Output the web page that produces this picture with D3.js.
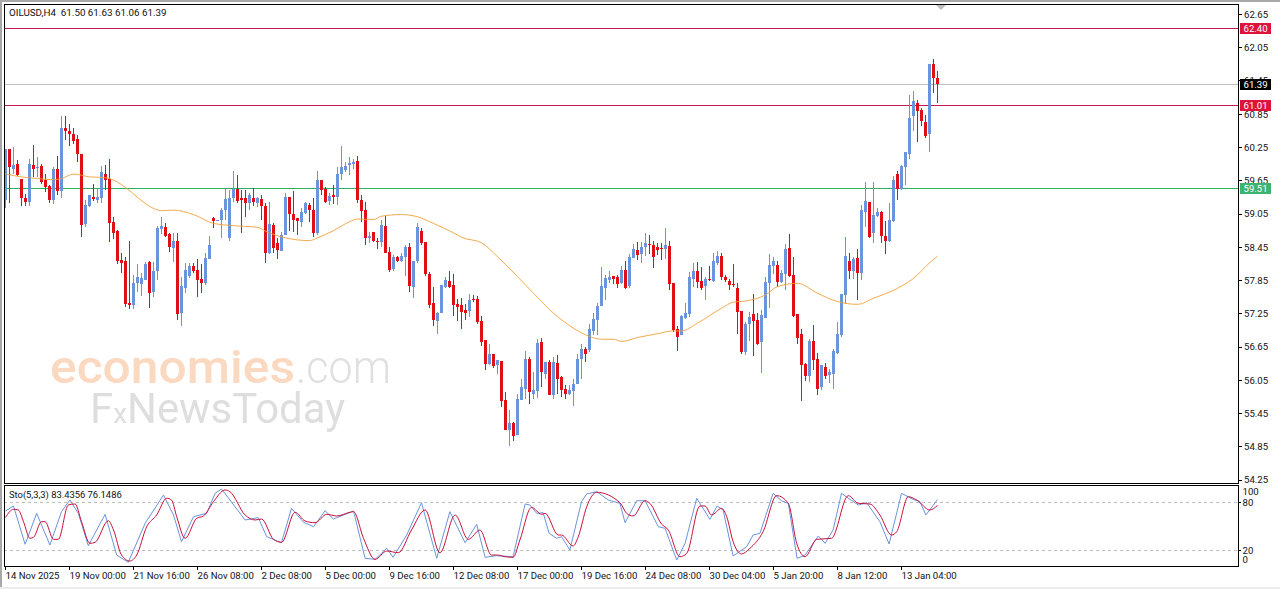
<!DOCTYPE html>
<html><head><meta charset="utf-8">
<script src="https://cdnjs.cloudflare.com/ajax/libs/d3/7.9.0/d3.min.js"></script>
<style>html,body{margin:0;padding:0;background:#fff}svg{display:block}text{font-family:"Roboto","Liberation Sans",sans-serif}</style>
</head><body><svg id="c" width="1280" height="589"></svg>
<script>
const opens=[59.30,60.22,59.87,59.95,59.68,59.34,59.27,59.93,59.89,59.92,59.66,59.56,59.31,59.86,59.47,60.60,60.55,60.49,60.40,60.13,
58.87,59.19,59.35,59.30,59.34,59.78,59.69,58.91,58.75,58.22,58.20,57.44,57.41,57.80,57.79,57.86,58.18,57.64,58.03,58.78,
58.81,58.69,58.44,58.56,57.26,57.72,57.93,58.12,58.04,57.88,57.80,58.24,58.98,58.93,58.94,59.12,58.61,59.33,59.51,59.33,
59.33,59.25,59.33,59.24,59.32,59.19,58.34,58.85,58.52,58.39,58.67,59.35,59.05,58.97,58.91,59.07,59.21,59.13,58.70,59.66,
59.51,59.28,59.39,59.36,59.77,59.84,59.94,59.96,60.01,59.30,59.13,58.61,58.72,58.57,58.55,58.83,58.36,58.06,58.28,58.21,
58.27,58.45,57.74,58.20,58.74,58.55,57.97,57.44,57.12,57.26,57.73,57.84,57.76,57.43,57.41,57.32,57.30,57.51,57.51,57.12,
56.77,56.34,56.52,56.32,56.39,55.69,55.15,55.28,55.06,55.70,55.90,56.44,55.81,55.85,56.74,56.17,56.38,55.79,56.36,56.10,
55.89,55.81,55.86,55.98,56.43,56.62,56.60,56.94,57.14,57.39,57.72,57.86,57.93,57.92,57.80,58.04,57.75,58.25,58.40,58.33,
58.46,58.51,58.49,58.45,58.44,58.42,58.47,57.80,56.97,56.86,57.17,57.24,57.87,58.02,57.84,57.75,57.88,57.84,58.16,58.29,
57.92,57.85,57.79,57.71,57.30,56.56,57.06,57.24,57.14,56.74,57.18,57.81,58.11,58.13,57.83,57.97,58.44,57.95,57.24,56.88,
56.35,56.12,56.76,56.43,55.92,56.29,56.15,56.17,56.55,56.87,57.59,58.21,58.03,58.25,57.99,59.09,59.27,58.70,59.01,59.09,
58.66,58.57,58.92,59.77,59.51,59.90,60.14,60.81,61.06,60.92,60.71,60.49,61.76,61.50];
const highs=[60.23,60.22,60.26,60.02,59.68,59.41,60.04,60.30,60.07,59.95,59.77,59.57,59.90,60.10,60.82,60.82,60.67,60.60,60.47,60.14,
59.30,59.40,59.60,59.51,59.92,59.93,60.05,59.00,58.76,58.35,58.28,58.56,57.95,58.15,57.99,58.19,58.20,58.19,58.83,59.00,
58.88,58.71,58.71,58.70,57.91,58.16,58.17,58.16,58.23,58.15,58.34,58.65,58.99,58.95,59.15,59.51,59.49,59.83,59.75,59.49,
59.48,59.43,59.52,59.36,59.39,59.24,59.26,58.88,58.61,58.73,59.43,59.36,59.47,58.97,59.15,59.27,59.24,59.33,59.82,59.67,
59.53,59.42,59.58,59.89,60.28,59.99,60.08,60.05,60.10,59.39,59.27,58.73,58.73,58.61,58.94,59.01,58.46,58.31,58.30,58.34,
58.49,58.52,58.20,58.88,58.79,58.55,58.01,57.73,57.29,57.77,57.92,58.02,57.97,57.51,57.53,57.42,57.60,57.59,57.57,57.21,
56.77,56.71,56.53,56.41,56.40,55.84,55.51,55.30,55.81,56.08,56.58,56.47,56.20,56.80,56.82,56.38,56.42,56.47,56.50,56.12,
55.96,55.96,56.08,56.53,56.70,56.65,57.06,57.26,57.45,58.10,57.95,58.03,57.93,57.95,58.11,58.20,58.33,58.51,58.55,58.55,
58.71,58.67,58.57,58.53,58.53,58.79,58.57,57.81,57.03,57.23,57.44,58.01,58.17,58.18,58.09,57.92,58.11,58.35,58.38,58.34,
57.95,57.87,58.15,57.80,57.30,57.11,57.29,57.60,57.26,57.32,57.92,58.33,58.28,58.21,58.04,58.51,58.69,58.27,57.24,56.97,
56.37,56.79,57.04,56.55,56.32,56.37,56.26,56.62,57.11,57.60,58.63,58.34,58.28,58.41,59.21,59.63,59.27,59.63,59.15,59.10,
58.92,59.25,59.73,59.83,59.93,60.17,61.20,61.27,61.11,60.97,60.84,61.76,61.85,61.63];
const lows=[59.15,59.25,59.78,59.74,59.19,59.19,59.19,59.71,59.72,59.60,59.45,59.24,59.23,59.39,59.33,60.38,60.28,60.32,59.98,58.64,
58.82,59.18,59.29,59.24,59.24,59.48,58.55,58.59,58.15,57.98,57.38,57.33,57.34,57.65,57.57,57.86,57.36,57.55,57.86,58.69,
58.63,58.37,58.19,57.14,57.03,57.62,57.89,57.99,57.56,57.62,57.77,58.24,58.79,58.93,58.61,58.95,58.57,59.27,59.25,58.71,
58.99,59.12,59.19,59.18,58.94,58.17,58.33,58.35,58.24,58.38,58.67,58.75,58.73,58.67,58.81,59.05,58.91,58.64,58.67,59.39,
59.25,59.22,59.23,59.21,59.66,59.81,59.76,59.87,59.25,58.91,58.49,58.53,58.54,58.42,58.46,58.34,58.01,58.03,58.18,58.19,
57.94,57.65,57.54,58.17,58.49,57.93,57.36,57.03,56.88,57.26,57.71,57.71,57.21,57.12,56.97,57.14,57.20,57.47,57.06,56.67,
56.24,56.32,56.28,56.16,55.56,55.15,54.86,54.96,55.06,55.69,55.72,55.62,55.72,55.73,55.93,56.08,55.78,55.72,55.81,55.75,
55.72,55.78,55.58,55.98,56.07,56.38,56.56,56.87,56.87,57.39,57.50,57.81,57.79,57.71,57.79,57.69,57.71,58.25,58.22,58.17,
58.29,58.33,58.07,58.31,58.22,58.23,57.67,56.92,56.58,56.86,57.15,57.20,57.74,57.72,57.68,57.50,57.85,57.83,58.13,57.86,
57.83,57.68,57.73,56.89,56.52,56.50,56.76,56.49,56.68,56.18,57.18,57.35,57.97,57.74,57.80,57.68,57.92,57.20,56.71,55.67,
56.04,56.02,56.23,55.78,55.88,56.08,56.00,55.90,56.52,56.83,57.43,57.87,57.87,57.50,57.86,58.82,58.61,58.53,59.00,58.52,
58.33,58.55,58.91,59.30,59.49,59.57,60.04,60.54,60.35,60.64,60.43,60.17,61.24,61.06];
const closes=[60.23,59.90,59.93,59.75,59.34,59.27,59.95,59.87,59.90,59.63,59.53,59.30,59.86,59.47,60.61,60.55,60.49,60.37,60.13,58.85,
59.21,59.39,59.32,59.35,59.81,59.66,58.89,58.71,58.20,58.17,57.42,57.41,57.80,57.91,57.89,58.15,57.63,58.02,58.80,58.83,
58.65,58.46,58.56,57.24,57.75,58.04,58.11,58.02,57.86,57.81,58.26,58.49,58.92,58.94,59.12,59.32,59.33,59.51,59.29,59.31,
59.25,59.39,59.27,59.33,59.19,58.34,58.87,58.44,58.40,58.67,59.36,59.05,58.94,58.92,59.09,59.24,59.12,58.70,59.66,59.49,
59.27,59.37,59.36,59.77,59.89,59.92,59.97,59.99,59.30,59.11,58.61,58.66,58.56,58.56,58.85,58.35,58.04,58.28,58.20,58.29,
58.45,57.75,58.20,58.81,58.53,57.97,57.41,57.14,57.26,57.76,57.86,57.73,57.40,57.38,57.29,57.26,57.50,57.50,57.10,56.74,
56.34,56.52,56.30,56.41,55.68,55.15,55.27,55.04,55.72,55.93,56.43,55.84,55.87,56.73,56.20,56.38,55.78,56.38,56.08,55.87,
55.81,55.88,55.99,56.44,56.62,56.52,56.97,57.15,57.39,57.75,57.89,57.91,57.88,57.79,58.04,57.72,58.27,58.42,58.31,58.46,
58.52,58.50,58.28,58.40,58.41,58.49,57.79,56.95,56.83,57.21,57.26,57.91,58.02,57.82,57.71,57.88,57.86,58.20,58.29,57.91,
57.86,57.77,57.76,57.29,56.56,57.06,57.20,57.12,56.71,57.23,57.82,58.13,58.21,57.82,57.98,58.41,57.93,57.21,56.82,56.32,
56.12,56.76,56.41,55.90,56.32,56.12,56.20,56.58,56.88,57.60,58.29,58.03,58.23,57.98,59.12,59.28,58.64,59.03,59.08,58.65,
58.57,58.94,59.67,59.51,59.92,60.17,60.79,61.09,60.90,60.72,60.46,61.76,61.50,61.39];

const maIndex=[0,4,8,12,14,17,19,21,24,26,30,33,36,39,42,47,52,57,63,65,70,76,78,82,86,88,92,94,99,103,107,112,114,119,123,128,132,137,142,146,149,152,154,158,163,167,169,173,179,182,185,190,193,198,203,208,213,217,223,228,230,233];
const maValues=[59.77,59.72,59.69,59.67,59.69,59.77,59.75,59.72,59.71,59.69,59.53,59.35,59.19,59.11,59.12,59.04,58.88,58.84,58.81,58.74,58.62,58.57,58.62,58.75,58.91,58.96,58.95,59.01,59.04,59.00,58.88,58.71,58.63,58.53,58.28,57.92,57.62,57.26,56.99,56.84,56.79,56.79,56.75,56.82,56.89,56.94,56.94,57.08,57.35,57.46,57.48,57.59,57.74,57.80,57.62,57.47,57.42,57.53,57.71,57.95,58.10,58.29];

const stoMainIndex=[0,2,4.9,7.8,11.1,14,16.1,18.2,20.7,24.9,27.8,30.7,34.9,39.5,42,44,47,50.3,52.4,54,59.9,63.2,65.3,69,71.5,74.5,77,79.9,82,87,89.9,92.4,95.3,96.9,100.3,104,107.8,111.1,114.9,117.8,119.9,122.8,126.9,129.9,131.1,132.8,134.4,135.9,137.8,139,141.1,144,145.3,147.8,150.7,153.6,154.9,157.8,159.9,163.2,164.9,167.8,169.9,172.8,176.1,177.9,179.4,181.9,185.3,186.9,188.6,191.9,194,195.7,197.9,199.9,203.2,204.9,206.9,209,213.2,215.3,218.6,220.9,224,226.9,228.6,230.1,233];
const stoMainValues=[69.1,75.4,27.5,66.2,26.6,68.3,82.9,66.2,25.8,65,14.1,5,53.7,89.1,64.1,30.8,62,66.2,91.2,96.6,57.9,60.8,37,29.5,72.5,55,49.5,69.5,59.1,69.1,10,8.7,22.5,11.2,39.1,79.5,10,68.3,29.5,52.5,11.2,13.3,12,77.9,76.6,66.2,67,41.2,35,37,20.4,80.8,90.4,93.3,82.9,78.7,54.5,82,82,49.5,47.4,7.9,28.7,85,58.7,75.4,70.4,12.9,24.5,39.1,41.2,91.2,82,78.7,10,14.1,37.9,28.7,45.4,91.2,76.6,79.5,55.8,27.9,91.2,83.7,80.8,64.1,83.4];
const stoSignalIndex=[0,2,3.2,4.5,6.1,7,9,9.9,12,13.2,15.7,17.4,19,21.1,22.4,25.7,27,29,31.1,32.8,35.3,37.8,40.3,41.5,42.8,44.9,47.8,49.5,52,54.9,56.1,59.9,62.4,64,67,69,72.4,74.9,77.4,80.3,82.8,86.1,87,89.5,92.4,95.3,98.2,101.5,104.9,108.6,112.4,115.7,118.6,121.5,122.8,124.9,126.9,128.6,131.5,134,134.9,138.2,139,141.9,143.2,145.3,147.8,153.6,155.3,156.9,159.9,161.1,164,165.7,168.6,170.3,173.6,174.9,176.5,179,180.3,181.9,184,186.1,189.4,192.8,195.7,197.8,199.9,202.8,206.5,210.7,213.2,216.1,218.6,221.5,222.8,225.7,227.8,231.1,233];
const stoSignalValues=[61.2,71.2,70.4,55.8,35,36.2,55.8,55.8,33.7,33.7,76.6,77.9,55.8,28.7,30,57,45.4,14.1,6.6,14.1,49.5,64.1,85,82.9,62,35,60,62.9,80.8,95.4,93.3,64.1,57.9,59.1,33.7,30,67.5,56.6,54.5,65,62.9,67.5,68.3,35,8.7,19.1,17,45.4,70.4,17,64.1,33.7,45.4,14.1,14.1,12,11.2,32.9,73.7,65,66.2,39.1,39.1,25.4,37,74.5,92.5,79.5,66.2,62.9,82,78.7,52.9,45.4,12,16.2,75.4,75.4,64.1,72.5,62,30.8,15.4,22.5,43.3,88.3,78.7,28.7,12,33.7,35,88.3,78.7,77.9,64.1,39.1,43.3,87,82.9,70.4,76.15];

const priceTicks=[62.65,62.05,61.45,60.85,60.25,59.65,59.05,58.45,57.85,57.25,56.65,56.05,55.45,54.85,54.25];
const timeLabels=["14 Nov 2025","19 Nov 00:00","21 Nov 16:00","26 Nov 08:00","2 Dec 08:00","5 Dec 00:00","9 Dec 16:00","12 Dec 08:00","17 Dec 00:00","19 Dec 16:00","24 Dec 08:00","30 Dec 04:00","5 Jan 20:00","8 Jan 12:00","13 Jan 04:00"];
const stoTicks=[100,80,20,0];
const levelPrices=[62.40,61.01,59.51];
const levelKinds=["res","res","sup"];
const lastPrice=61.39;

const FS=9.6;
const svg=d3.select("#c");
const x=d3.scaleLinear().domain([0,233]).range([5.5,937.5]);
const y=d3.scaleLinear().domain([62.65,54.25]).range([14.5,480]);
const ys=d3.scaleLinear().domain([100,0]).range([486.3,566.3]);
const L=4,R=1238;

svg.append("rect").attr("x",0).attr("y",0).attr("width",2).attr("height",589).attr("fill","#a8a8a8");
svg.append("rect").attr("x",0).attr("y",0).attr("width",1280).attr("height",2).attr("fill","#a8a8a8");
svg.append("rect").attr("x",0).attr("y",587).attr("width",1280).attr("height",2).attr("fill","#ececec");

// watermark
svg.append("defs").append("filter").attr("id","soft").append("feGaussianBlur").attr("stdDeviation",.6);
const wm=svg.append("g").attr("filter","url(#soft)");
wm.append("text").attr("x",50).attr("y",383).attr("font-size",46).attr("font-weight",500).attr("textLength",245).attr("lengthAdjust","spacingAndGlyphs").attr("font-family","Lato").attr("fill","#fbd8c0").text("economies");
wm.append("text").attr("x",296).attr("y",383).attr("font-size",46).attr("font-weight",300).attr("textLength",95).attr("lengthAdjust","spacingAndGlyphs").attr("font-family","Lato").attr("fill","#e0e0e0").text(".com");
const t2=wm.append("text").attr("x",90).attr("y",423).attr("font-size",42).attr("textLength",255).attr("lengthAdjust","spacingAndGlyphs").attr("font-family","Lato").attr("fill","#dedede");
t2.append("tspan").text("F");t2.append("tspan").attr("font-size",28).text("x");t2.append("tspan").text("NewsToday");

// level lines
const lvlColor={res:"#c2184f",sup:"#2fae66"},boxColor={res:"#dc143c",sup:"#3cb371"};
const crispY=v=>Math.floor(v)+.5;
svg.append("line").attr("x1",L).attr("x2",R).attr("y1",crispY(y(lastPrice))).attr("y2",crispY(y(lastPrice))).attr("stroke","#c0c0c0").attr("shape-rendering","crispEdges");
levelPrices.forEach((p,k)=>svg.append("line").attr("x1",L).attr("x2",R).attr("y1",crispY(y(p))).attr("y2",crispY(y(p))).attr("stroke",lvlColor[levelKinds[k]]).attr("shape-rendering","crispEdges"));

// candles
const idx=d3.range(opens.length);
const UP="#6a94dc",DN="#e00f16";
const col=i=>closes[i]>=opens[i]?UP:DN;
const g=svg.append("g").attr("shape-rendering","crispEdges");
g.selectAll("line").data(idx).join("line").attr("x1",i=>x(i)).attr("x2",i=>x(i)).attr("y1",i=>y(highs[i])).attr("y2",i=>y(lows[i])).attr("stroke",col);
g.selectAll("rect").data(idx).join("rect").attr("x",i=>Math.floor(x(i))-1).attr("width",3)
 .attr("y",i=>y(Math.max(opens[i],closes[i]))).attr("height",i=>Math.max(1,Math.abs(y(opens[i])-y(closes[i])))).attr("fill",col);

// MA
svg.append("path").attr("d",d3.line().x(d=>x(d[0])).y(d=>y(d[1])).curve(d3.curveMonotoneX)(d3.zip(maIndex,maValues))).attr("fill","none").attr("stroke","#ef9f38").attr("stroke-width",.9);

// stochastic
stoTicks.filter(v=>v==80||v==20).forEach(v=>svg.append("line").attr("x1",L).attr("x2",R).attr("y1",crispY(ys(v))).attr("y2",crispY(ys(v))).attr("stroke","#bdbdbd").attr("stroke-dasharray","3,3").attr("shape-rendering","crispEdges"));
svg.append("path").attr("d",d3.line().x(d=>x(d[0])).y(d=>ys(d[1])).curve(d3.curveLinear)(d3.zip(stoMainIndex,stoMainValues))).attr("fill","none").attr("stroke","#6a94dc");
svg.append("path").attr("d",d3.line().x(d=>x(d[0])).y(d=>ys(d[1])).curve(d3.curveMonotoneX)(d3.zip(stoSignalIndex,stoSignalValues))).attr("fill","none").attr("stroke","#c8103c");

// frames
const fr=svg.append("g").attr("fill","none").attr("stroke","#000").attr("shape-rendering","crispEdges");
fr.append("rect").attr("x",L+.5).attr("y",4.5).attr("width",R-L).attr("height",479);
fr.append("rect").attr("x",L+.5).attr("y",485.5).attr("width",R-L).attr("height",81);

// price axis
priceTicks.forEach(p=>svg.append("line").attr("x1",R).attr("x2",R+4).attr("y1",crispY(y(p))).attr("y2",crispY(y(p))).attr("stroke","#000").attr("shape-rendering","crispEdges"));
priceTicks.forEach(p=>svg.append("text").attr("x",1244).attr("y",y(p)+3.4).attr("font-size",FS).attr("fill","#111").text(p.toFixed(2)));

// time axis
timeLabels.forEach((t,k)=>{const px=Math.round(x(k*16))-.5;
 svg.append("line").attr("x1",px).attr("x2",px).attr("y1",566).attr("y2",570).attr("stroke","#000").attr("shape-rendering","crispEdges");
 svg.append("text").attr("x",px).attr("y",579).attr("font-size",FS).attr("fill","#111").text(t);});

// sto axis
const stoLabelY={100:492,80:503,20:550.5,0:559.5};
stoTicks.forEach(v=>{svg.append("text").attr("x",1242.5).attr("y",stoLabelY[v]+3.4).attr("font-size",FS).attr("fill","#111").text(v);
 if(v==80||v==20)svg.append("line").attr("x1",R).attr("x2",R+3).attr("y1",crispY(ys(v))).attr("y2",crispY(ys(v))).attr("stroke","#000").attr("shape-rendering","crispEdges");});

// boxes
const box=(p,bg,fg)=>{const cy=crispY(y(p));
 svg.append("rect").attr("x",1240).attr("y",cy-5.5).attr("width",31).attr("height",11).attr("fill",bg);
 svg.append("text").attr("x",1243.5).attr("y",cy+3.3).attr("font-size",FS).attr("fill",fg).text(p.toFixed(2));};
levelPrices.forEach((p,k)=>box(p,boxColor[levelKinds[k]],"#fff"));
box(lastPrice,"#000","#fff");

// headers
svg.append("text").attr("x",9).attr("y",16).attr("font-size",9.8).attr("fill","#111").attr("xml:space","preserve").text("OILUSD,H4  61.50 61.63 61.06 61.39");
svg.append("text").attr("x",9).attr("y",498).attr("font-size",9.4).attr("fill","#111").text("Sto(5,3,3) 83.4356 76.1486");
// scroll marker
svg.append("path").attr("d",d3.line()([[936,5],[946,5],[941,10]])+"Z").attr("fill","#bdbdbd");
</script></body></html>
